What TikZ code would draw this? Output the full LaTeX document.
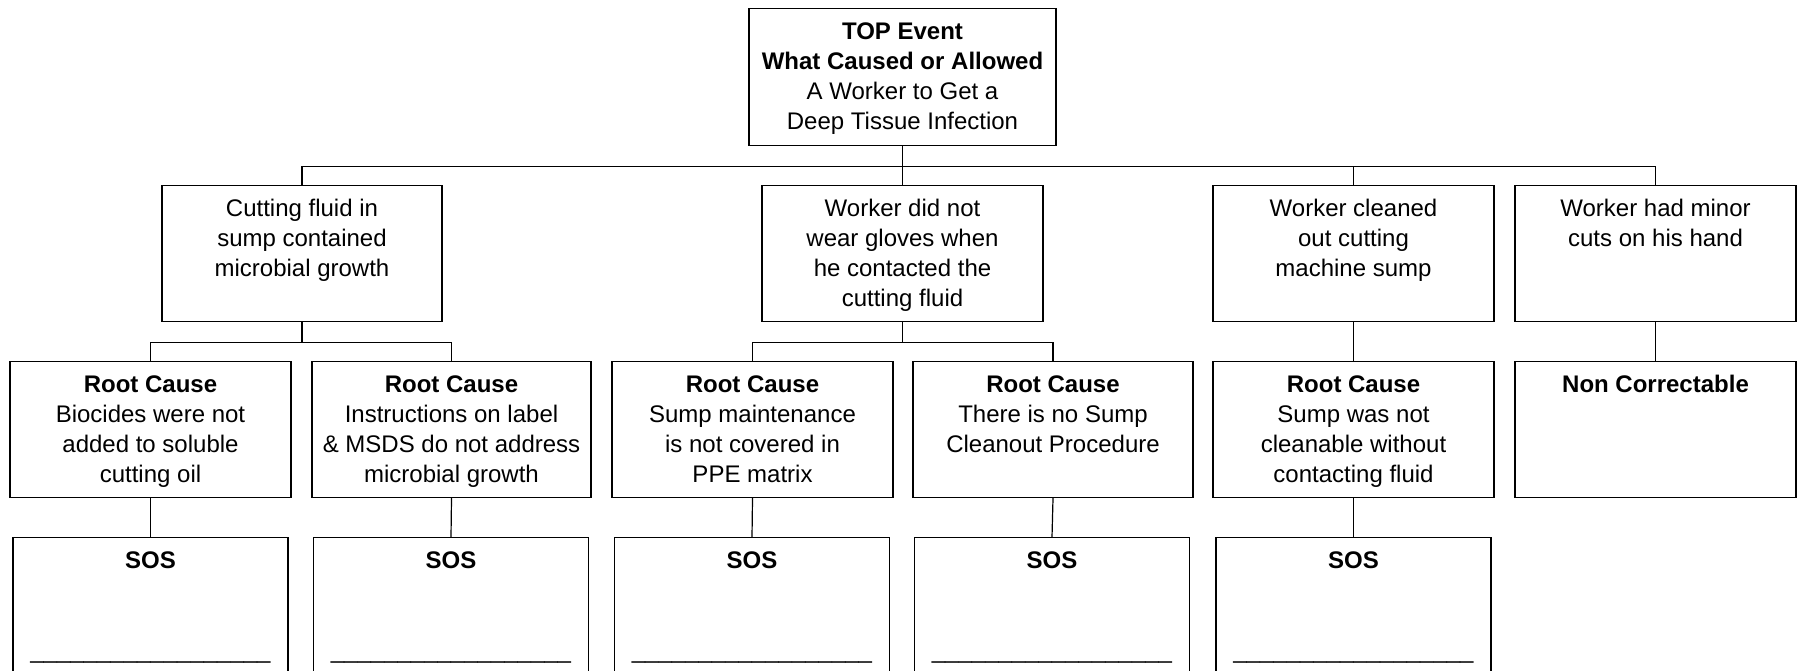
\documentclass[tikz,border=0pt]{standalone}
\usepackage{fontspec}
\setmainfont{Liberation Sans}
\tikzset{
    fta-box/.style = {draw, rectangle, inner sep=0pt, anchor=north},
}
\newcommand{\boxtext}[3]{\begin{minipage}[t][#2][t]{#1}\fontsize{12}{15}\selectfont\centering\rule{0pt}{15.5pt}#3\end{minipage}}

\begin{document}
\begin{tikzpicture}[x=0.5pt, y=-0.5pt, line width=0.6pt]
\path[use as bounding box, clip] (0,0) rectangle (1797,670);

% top event
\node[fta-box] (top) at (902.5,8) {\boxtext{153.5pt}{68.5pt}{\textbf{TOP Event}\\ \textbf{What Caused or Allowed}\\ A Worker to Get a\\ Deep Tissue Infection}};

% contributing events
\node[fta-box] (fluid) at (302,185) {\boxtext{140pt}{68pt}{Cutting fluid in\\ sump contained\\ microbial growth}};
\node[fta-box] (gloves) at (902.5,185) {\boxtext{140.5pt}{68pt}{Worker did not\\ wear gloves when\\ he contacted the\\ cutting fluid}};
\node[fta-box] (cleaned) at (1353.5,185) {\boxtext{140.5pt}{68pt}{Worker cleaned\\ out cutting\\ machine sump}};
\node[fta-box] (cuts) at (1655.5,185) {\boxtext{140.5pt}{68pt}{Worker had minor\\ cuts on his hand}};

% root causes
\node[fta-box] (biocides) at (150.5,361) {\boxtext{140.5pt}{68pt}{\textbf{Root Cause}\\ Biocides were not\\ added to soluble\\ cutting oil}};
\node[fta-box] (label) at (451.5,361) {\boxtext{139.5pt}{68pt}{\textbf{Root Cause}\\ Instructions on label\\ \&~MSDS do not address\\ microbial growth}};
\node[fta-box] (matrix) at (752.5,361) {\boxtext{140.5pt}{68pt}{\textbf{Root Cause}\\ Sump maintenance\\ is not covered in\\ PPE matrix}};
\node[fta-box] (procedure) at (1053,361) {\boxtext{140pt}{68pt}{\textbf{Root Cause}\\ There is no Sump\\ Cleanout Procedure}};
\node[fta-box] (sump) at (1353.5,361) {\boxtext{140.5pt}{68pt}{\textbf{Root Cause}\\ Sump was not\\ cleanable without\\ contacting fluid}};
\node[fta-box] (noncorr) at (1655.5,361) {\boxtext{140.5pt}{68pt}{\textbf{Non Correctable}}};

% SOS boxes
\node[fta-box] (sos-a) at (150.5,537) {\boxtext{137.5pt}{68pt}{\textbf{SOS}\\[30pt] \_\_\_\_\_\_\_\_\_\_\_\_\_\_\_\_\_\_}};
\node[fta-box] (sos-b) at (451,537) {\boxtext{137.5pt}{68pt}{\textbf{SOS}\\[30pt] \_\_\_\_\_\_\_\_\_\_\_\_\_\_\_\_\_\_}};
\node[fta-box] (sos-c) at (752,537) {\boxtext{137.5pt}{68pt}{\textbf{SOS}\\[30pt] \_\_\_\_\_\_\_\_\_\_\_\_\_\_\_\_\_\_}};
\node[fta-box] (sos-d) at (1052,537) {\boxtext{137.5pt}{68pt}{\textbf{SOS}\\[30pt] \_\_\_\_\_\_\_\_\_\_\_\_\_\_\_\_\_\_}};
\node[fta-box] (sos-e) at (1353.5,537) {\boxtext{137.5pt}{68pt}{\textbf{SOS}\\[30pt] \_\_\_\_\_\_\_\_\_\_\_\_\_\_\_\_\_\_}};

% connectors
\draw (top.south) -- ++(0,20) coordinate (bus-top);
\draw (fluid.north) |- (bus-top) -| (cuts.north);
\draw (bus-top) -- (gloves.north);
\draw (cleaned.north) -- (cleaned.north |- bus-top);
\draw (fluid.south) -- ++(0,20) coordinate (bus-fluid);
\draw (biocides.north) |- (bus-fluid) -| (label.north);
\draw (gloves.south) -- ++(0,20) coordinate (bus-gloves);
\draw (matrix.north) |- (bus-gloves) -| (procedure.north);
\draw (cleaned.south) -- (sump.north);
\draw (cuts.south) -- (noncorr.north);
\draw (biocides.south) -- (sos-a.north);
\draw (label.south) -- (sos-b.north);
\draw (matrix.south) -- (sos-c.north);
\draw (procedure.south) -- (sos-d.north);
\draw (sump.south) -- (sos-e.north);
\end{tikzpicture}
\end{document}
